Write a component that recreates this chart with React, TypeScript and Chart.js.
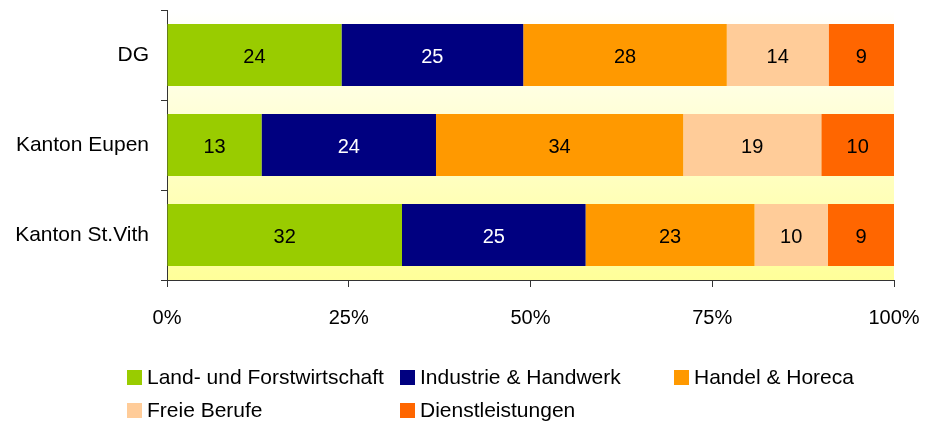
import React, { useEffect, useRef } from "react";
import { Chart, registerables } from "chart.js";

Chart.register(...registerables);

const categories = ["DG", "Kanton Eupen", "Kanton St.Vith"];
const seriesNames = [
  "Land- und Forstwirtschaft",
  "Industrie & Handwerk",
  "Handel & Horeca",
  "Freie Berufe",
  "Dienstleistungen",
];
const seriesColors = ["#99CC00", "#000080", "#FF9900", "#FFCC99", "#FF6600"];
const labelColors = ["#000000", "#FFFFFF", "#000000", "#000000", "#000000"];
const landForst = [24, 13, 32];
const industrie = [25, 24, 25];
const handel = [28, 34, 23];
const freieBerufe = [14, 19, 10];
const dienst = [9, 10, 9];
const seriesValues = [landForst, industrie, handel, freieBerufe, dienst];
const xTicks = [0, 25, 50, 75, 100];

const FONT = "'Liberation Sans', Arial, sans-serif";

const totals = categories.map((_, i) =>
  seriesValues.reduce((s, arr) => s + arr[i], 0)
);

const bgPlugin = {
  id: "bgGradient",
  beforeDraw(chart: any) {
    const { ctx, chartArea } = chart;
    const g = ctx.createLinearGradient(0, chartArea.top, 0, chartArea.bottom);
    g.addColorStop(0, "#FFFFFF");
    g.addColorStop(1, "#FFFF99");
    ctx.save();
    ctx.fillStyle = g;
    ctx.fillRect(
      chartArea.left,
      chartArea.top,
      chartArea.right - chartArea.left,
      chartArea.bottom - chartArea.top
    );
    ctx.restore();
  },
};

const labelPlugin = {
  id: "barLabels",
  afterDatasetsDraw(chart: any) {
    const { ctx } = chart;
    ctx.save();
    ctx.font = `20px ${FONT}`;
    ctx.textAlign = "center";
    ctx.textBaseline = "middle";
    chart.data.datasets.forEach((ds: any, di: number) => {
      const meta = chart.getDatasetMeta(di);
      meta.data.forEach((el: any, i: number) => {
        const raw = seriesValues[di][i];
        const cx = (el.x + el.base) / 2;
        ctx.fillStyle = labelColors[di];
        ctx.fillText(String(raw), cx, el.y + 2);
      });
    });
    ctx.restore();
  },
};

export default function App() {
  const ref = useRef<HTMLCanvasElement>(null);

  useEffect(() => {
    if (!ref.current) return;
    const chart = new Chart(ref.current, {
      type: "bar",
      data: {
        labels: categories,
        datasets: seriesNames.map((name, di) => ({
          label: name,
          data: seriesValues[di].map((v, i) => (v / totals[i]) * 100),
          backgroundColor: seriesColors[di],
          borderWidth: 0,
          barPercentage: 0.69,
          categoryPercentage: 1,
        })),
      },
      options: {
        indexAxis: "y",
        responsive: false,
        animation: false,
        devicePixelRatio: 1,
        layout: { padding: { left: 0, right: 32, top: 10, bottom: 0 } },
        plugins: {
          legend: { display: false },
          tooltip: { enabled: false },
        },
        scales: {
          x: {
            stacked: true,
            min: 0,
            max: 100,
            afterFit: (s: any) => {
              s.height = 148;
              s.paddingLeft = 0;
              s.paddingRight = 0;
            },
            afterBuildTicks: (s: any) => {
              s.ticks = xTicks.map((v) => ({ value: v }));
            },
            ticks: {
              callback: (v: any) => v + "%",
              font: { size: 20, family: FONT },
              color: "#000",
              padding: 19,
              maxRotation: 0,
            },
            grid: {
              drawOnChartArea: false,
              drawTicks: true,
              tickLength: 7,
              color: "#333",
            },
            border: { display: true, color: "#333", width: 1 },
          },
          y: {
            stacked: true,
            afterFit: (s: any) => {
              s.width = 167;
              s.paddingTop = 0;
              s.paddingBottom = 0;
            },
            ticks: {
              font: { size: 21, family: FONT },
              color: "#000",
              padding: 12,
            },
            grid: {
              drawOnChartArea: false,
              drawTicks: true,
              tickLength: 6,
              color: "#333",
              offset: true,
            },
            border: { display: true, color: "#333", width: 1 },
          },
        },
      },
      plugins: [bgPlugin, labelPlugin],
    } as any);
    return () => chart.destroy();
  }, []);

  const cols = [127, 400, 674];
  const rows = [369, 402];

  return (
    <div
      style={{
        position: "absolute",
        left: 0,
        top: 0,
        width: 926,
        height: 428,
        background: "#fff",
        fontFamily: FONT,
      }}
    >
      <canvas
        ref={ref}
        width={926}
        height={428}
        style={{ position: "absolute", left: 0, top: 0, width: 926, height: 428 }}
      />
      {seriesNames.map((name, i) => {
        const x = cols[i % 3];
        const y = rows[Math.floor(i / 3)];
        return (
          <div
            key={name}
            style={{
              position: "absolute",
              left: x,
              top: y - 4,
              height: 24,
              display: "flex",
              alignItems: "center",
              whiteSpace: "nowrap",
            }}
          >
            <span
              style={{
                display: "inline-block",
                width: 15,
                height: 15,
                background: seriesColors[i],
                marginRight: 5,
              }}
            />
            <span style={{ fontSize: 21, lineHeight: "24px", color: "#000" }}>
              {name}
            </span>
          </div>
        );
      })}
    </div>
  );
}
